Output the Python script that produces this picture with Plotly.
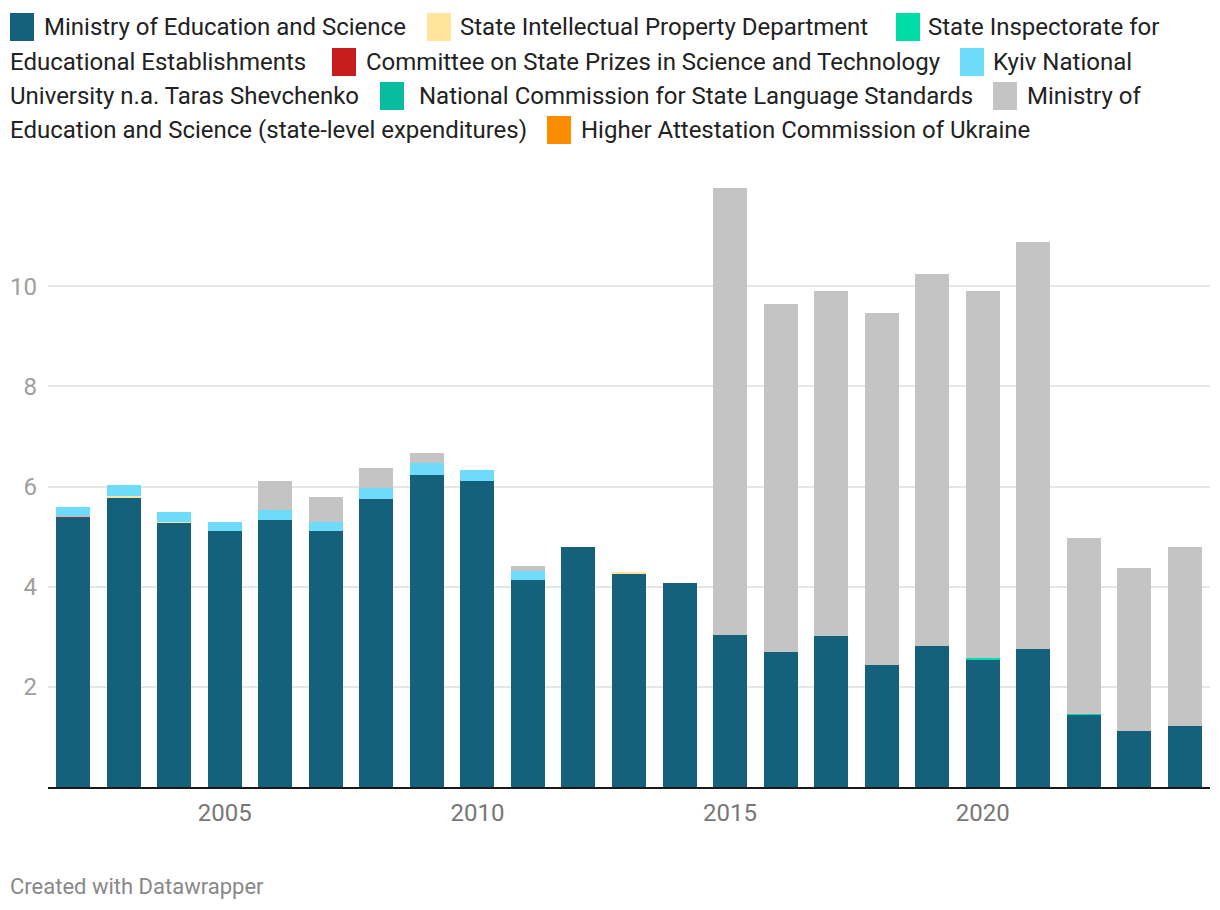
import plotly.graph_objects as go

years = list(range(2002, 2025))

series_names = [
    "Ministry of Education and Science",
    "State Intellectual Property Department",
    "State Inspectorate for Educational Establishments",
    "Committee on State Prizes in Science and Technology",
    "Kyiv National University n.a. Taras Shevchenko",
    "National Commission for State Language Standards",
    "Ministry of Education and Science (state-level expenditures)",
    "Higher Attestation Commission of Ukraine",
]
series_colors = ["#15607a", "#ffe59c", "#00dca6", "#c71e1d", "#6fdbfa", "#09bb9f", "#c4c4c4", "#fa8c00"]

ministry = [5.38, 5.79, 5.28, 5.11, 5.33, 5.11, 5.75, 6.23, 6.11, 4.13, 4.79, 4.25, 4.07,
            3.03, 2.69, 3.01, 2.44, 2.81, 2.55, 2.75, 1.44, 1.12, 1.22]
state_ip = [0, 0.02, 0.02, 0, 0, 0, 0, 0, 0, 0, 0, 0.04, 0,
            0, 0, 0, 0, 0, 0, 0, 0, 0, 0]
inspectorate = [0, 0, 0, 0, 0, 0, 0, 0, 0, 0, 0, 0, 0,
                0, 0, 0, 0, 0, 0.02, 0, 0.02, 0, 0]
committee = [0.02, 0, 0, 0, 0, 0, 0, 0, 0, 0, 0, 0, 0,
             0, 0, 0, 0, 0, 0, 0, 0, 0, 0]
kyiv_univ = [0.19, 0.22, 0.19, 0.18, 0.20, 0.19, 0.22, 0.23, 0.22, 0.18, 0, 0, 0,
             0, 0, 0, 0, 0, 0, 0, 0, 0, 0]
lang_commission = [0] * 23
ministry_state = [0, 0, 0, 0, 0.58, 0.49, 0.40, 0.21, 0, 0.10, 0, 0, 0,
                  8.93, 6.95, 6.89, 7.02, 7.43, 7.33, 8.13, 3.51, 3.25, 3.57]
attestation = [0] * 23

series_values = [ministry, state_ip, inspectorate, committee, kyiv_univ,
                 lang_commission, ministry_state, attestation]

y_ticks = [2, 4, 6, 8, 10]
x_ticks = [2005, 2010, 2015, 2020]

# legend layout (flowing, wrapped like the original): (series index, row, swatch x, text pieces)
legend_items = [
    (0, 0, 10, [(0, 44, "Ministry of Education and Science")]),
    (1, 0, 427, [(0, 460, "State Intellectual Property Department")]),
    (2, 0, 896, [(0, 928, "State Inspectorate for"), (1, 10, "Educational Establishments")]),
    (3, 1, 332, [(0, 366, "Committee on State Prizes in Science and Technology")]),
    (4, 1, 960, [(0, 993, "Kyiv National"), (1, 10, "University n.a. Taras Shevchenko")]),
    (5, 2, 380, [(0, 419, "National Commission for State Language Standards")]),
    (6, 2, 993, [(0, 1027, "Ministry of"), (1, 10, "Education and Science (state-level expenditures)")]),
    (7, 3, 547, [(0, 581, "Higher Attestation Commission of Ukraine")]),
]

W, H = 1220, 910
ML, MR, MT, MB = 48, 10, 186, 123
PW, PH = W - ML - MR, H - MT - MB
row_y = [27, 62, 96, 130]


def px(xp):
    return (xp - ML) / PW


def py(yp):
    return (H - MB - yp) / PH


fig = go.Figure()
for name, color, vals in zip(series_names, series_colors, series_values):
    fig.add_trace(go.Bar(x=years, y=vals, name=name, marker=dict(color=color, line=dict(width=0)),
                         showlegend=False))

shapes = []
annotations = []
for idx, row, sx, pieces in legend_items:
    cy = row_y[row]
    shapes.append(dict(type="rect", xref="paper", yref="paper",
                       x0=px(sx), x1=px(sx + 24), y0=py(cy - 14), y1=py(cy + 14),
                       fillcolor=series_colors[idx], line=dict(width=0)))
    for drow, tx, txt in pieces:
        annotations.append(dict(xref="paper", yref="paper", x=px(tx - 2), y=py(row_y[row + drow]),
                                xanchor="left", yanchor="middle", text=txt, showarrow=False,
                                font=dict(family="Roboto", size=24, color="#222222")))

annotations.append(dict(xref="paper", yref="paper", x=px(8), y=py(886), xanchor="left", yanchor="middle",
                        text="Created with Datawrapper", showarrow=False,
                        font=dict(family="Roboto", size=22, color="#888888")))

fig.update_layout(
    width=W, height=H,
    margin=dict(l=ML, r=MR, t=MT, b=MB, pad=0),
    barmode="stack", bargap=0.327,
    plot_bgcolor="white", paper_bgcolor="white",
    font=dict(family="Roboto"),
    shapes=shapes, annotations=annotations,
    xaxis=dict(range=[2001.5, 2024.5], tickvals=x_ticks, ticktext=[str(v) for v in x_ticks],
               showgrid=False, zeroline=False, showline=True, linecolor="#1a1a1a", linewidth=2,
               ticks="", ticklabelstandoff=3, tickfont=dict(family="Roboto", size=24, color="#777777")),
    yaxis=dict(range=[0, 12], tickvals=y_ticks, ticktext=[str(v) for v in y_ticks],
               showgrid=True, gridcolor="#e6e6e6", gridwidth=1.5, zeroline=False, showline=False,
               ticks="", ticklabelstandoff=10, tickfont=dict(family="Roboto", size=24, color="#9e9e9e")),
)

fig.write_html("out.html", config={"displayModeBar": False},
               post_script="document.body.style.margin='0';document.body.style.overflow='hidden';")
